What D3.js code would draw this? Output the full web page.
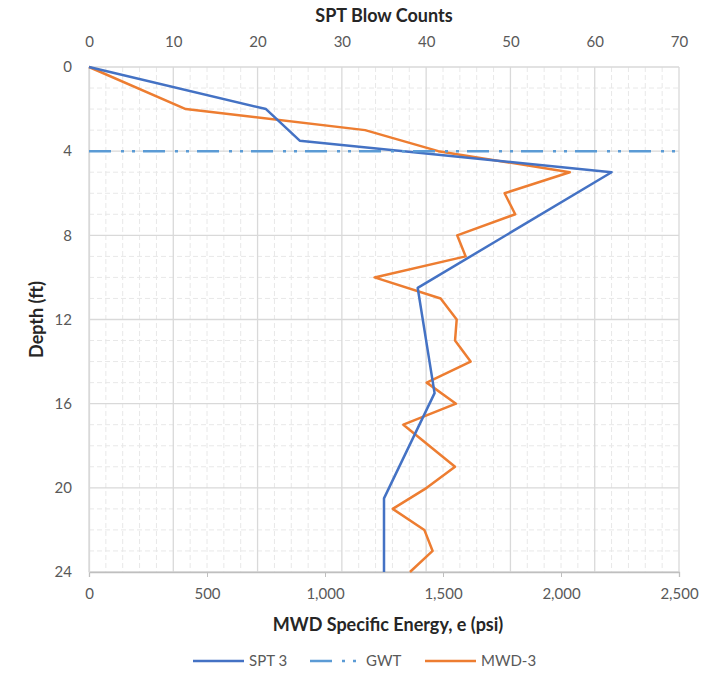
<!DOCTYPE html>
<html>
<head>
<meta charset="utf-8">
<script src="https://cdn.jsdelivr.net/npm/d3@7"></script>
<style>
  body { margin: 0; background: #fff; }
  text { font-family: Lato, "Open Sans", sans-serif; }
</style>
</head>
<body>
<svg id="chart"></svg>
<script>
// Data
const sptDepth = [0, 2, 3.5, 5, 10.5, 15.5, 20.5, 24];
const sptBlows = [0, 21, 25, 62, 39, 41, 35, 35];

const mwdDepth  = [0, 2, 3, 4, 5, 6, 7, 8, 9, 10, 11, 12, 13, 14, 15, 16, 17, 19, 20, 21, 22, 23, 24];
const mwdEnergy = [0, 410, 1170, 1480, 2037, 1761, 1806, 1560, 1596, 1210, 1490, 1558, 1551, 1617, 1431, 1555, 1332, 1551, 1431, 1287, 1421, 1456, 1360];

const gwtDepth = 4;

const depthTicks  = [0, 4, 8, 12, 16, 20, 24];
const blowTicks   = [0, 10, 20, 30, 40, 50, 60, 70];
const energyTicks = [0, 500, 1000, 1500, 2000, 2500];

const W = 721, H = 681;
const plotL = 89, plotR = 679, plotT = 67, plotB = 572;

const svg = d3.select("#chart").attr("width", W).attr("height", H);

// Scales
const x = d3.scaleLinear().domain([0, 2500]).range([plotL, plotR]);
const xTop = d3.scaleLinear().domain([0, 70]).range([plotL, plotR]);
const y = d3.scaleLinear().domain([0, 24]).range([plotT, plotB]);

// Minor gridlines
const grid = svg.append("g");
grid.selectAll(".vminor")
  .data(d3.range(0, 71, 2).filter(d => d % 10 !== 0))
  .enter().append("line")
  .attr("x1", d => xTop(d)).attr("x2", d => xTop(d))
  .attr("y1", plotT).attr("y2", plotB)
  .attr("stroke", "#e8e8e8").attr("stroke-width", 1)
  .attr("stroke-dasharray", "5,3");
grid.selectAll(".hminor")
  .data(d3.range(0, 25, 1).filter(d => d % 4 !== 0))
  .enter().append("line")
  .attr("x1", plotL).attr("x2", plotR)
  .attr("y1", d => y(d)).attr("y2", d => y(d))
  .attr("stroke", "#e8e8e8").attr("stroke-width", 1)
  .attr("stroke-dasharray", "5,3");

// Major gridlines
grid.selectAll(".vmajor")
  .data(blowTicks)
  .enter().append("line")
  .attr("x1", d => xTop(d)).attr("x2", d => xTop(d))
  .attr("y1", plotT).attr("y2", plotB)
  .attr("stroke", "#d9d9d9").attr("stroke-width", 1.3);
grid.selectAll(".hmajor")
  .data(depthTicks)
  .enter().append("line")
  .attr("x1", plotL).attr("x2", plotR)
  .attr("y1", d => y(d)).attr("y2", d => y(d))
  .attr("stroke", "#d9d9d9").attr("stroke-width", 1.3);

// Bottom axis
const bAxis = svg.append("g")
  .attr("transform", `translate(0,${plotB})`)
  .call(d3.axisBottom(x).tickValues(energyTicks).tickFormat(d3.format(",")).tickSize(5).tickPadding(11));
bAxis.select(".domain").attr("stroke", "#bfbfbf").attr("stroke-width", 1.3);
bAxis.selectAll(".tick line").attr("stroke", "#bfbfbf");
bAxis.selectAll("text").attr("font-size", 15).attr("fill", "#595959")
  .style("font-family", "Lato, sans-serif");

// Top axis
const tAxis = svg.append("g")
  .attr("transform", `translate(0,${plotT})`)
  .call(d3.axisTop(xTop).tickValues(blowTicks).tickSize(0).tickPadding(20));
tAxis.select(".domain").remove();
tAxis.selectAll("text").attr("font-size", 15).attr("fill", "#595959")
  .style("font-family", "Lato, sans-serif");

// Left axis
const lAxis = svg.append("g")
  .attr("transform", `translate(${plotL},0)`)
  .call(d3.axisLeft(y).tickValues(depthTicks).tickSize(0).tickPadding(17));
lAxis.select(".domain").attr("stroke", "#d9d9d9").attr("stroke-width", 1.3);
lAxis.selectAll("text").attr("font-size", 15).attr("fill", "#595959")
  .style("font-family", "Lato, sans-serif");

// Lines
const sptData = sptDepth.map((d, i) => ({ depth: d, v: sptBlows[i] }));
const mwdData = mwdDepth.map((d, i) => ({ depth: d, v: mwdEnergy[i] }));

svg.append("path")
  .datum(mwdData)
  .attr("fill", "none")
  .attr("stroke", "#ed7d31")
  .attr("stroke-width", 2.5)
  .attr("stroke-linejoin", "round")
  .attr("d", d3.line().x(d => x(d.v)).y(d => y(d.depth)));

svg.append("path")
  .datum(sptData)
  .attr("fill", "none")
  .attr("stroke", "#4472c4")
  .attr("stroke-width", 2.5)
  .attr("stroke-linejoin", "round")
  .attr("d", d3.line().x(d => xTop(d.v)).y(d => y(d.depth)));

// GWT line
const gwtDash = "22,10,3,8,3,8";
svg.append("line")
  .attr("x1", plotL).attr("x2", plotR)
  .attr("y1", y(gwtDepth)).attr("y2", y(gwtDepth))
  .attr("stroke", "#5b9bd5")
  .attr("stroke-width", 2.5)
  .attr("stroke-dasharray", gwtDash);

// Axis titles
svg.append("text")
  .attr("x", 384)
  .attr("y", 22)
  .attr("text-anchor", "middle")
  .attr("font-size", 18).attr("font-weight", "bold").attr("fill", "#262626")
  .text("SPT Blow Counts");

svg.append("text")
  .attr("x", 388)
  .attr("y", 631)
  .attr("text-anchor", "middle")
  .attr("font-size", 18).attr("font-weight", "bold").attr("fill", "#262626")
  .text("MWD Specific Energy, e (psi)");

svg.append("text")
  .attr("transform", `translate(43,${(plotT + plotB) / 2}) rotate(-90)`)
  .attr("text-anchor", "middle")
  .attr("font-size", 18).attr("font-weight", "bold").attr("fill", "#262626")
  .text("Depth (ft)");

// Legend
const legend = [
  { name: "SPT 3", color: "#4472c4", dash: null, x: 193 },
  { name: "GWT", color: "#5b9bd5", dash: gwtDash, x: 310 },
  { name: "MWD-3", color: "#ed7d31", dash: null, x: 425 }
];
const lg = svg.append("g").attr("transform", "translate(0,661)");
legend.forEach(l => {
  lg.append("line")
    .attr("x1", l.x).attr("x2", l.x + 51)
    .attr("y1", 0).attr("y2", 0)
    .attr("stroke", l.color).attr("stroke-width", 2.5)
    .attr("stroke-dasharray", l.dash);
  lg.append("text")
    .attr("x", l.x + 56).attr("y", 5)
    .attr("font-size", 15).attr("fill", "#595959")
    .text(l.name);
});
</script>
</body>
</html>
